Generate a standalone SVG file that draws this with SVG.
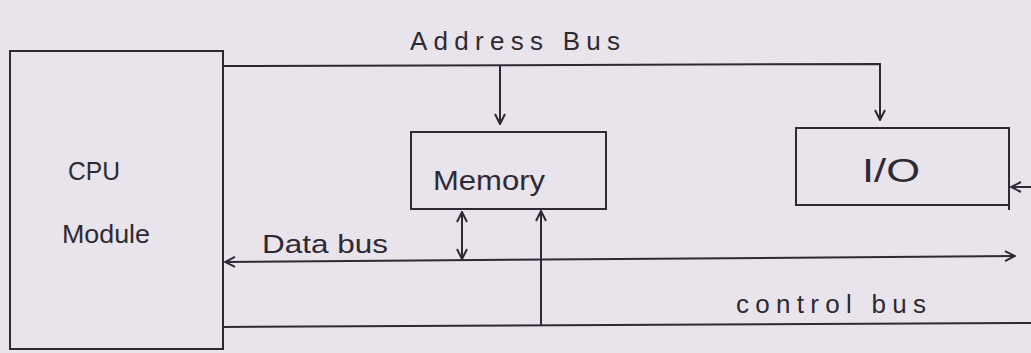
<svg xmlns="http://www.w3.org/2000/svg" width="1031" height="353" viewBox="0 0 1031 353">
<style>
.box{fill:none;stroke:#2e2a33;stroke-width:2}
.ln{fill:none;stroke:#2e2a33;stroke-width:2}
.t{font-family:"Liberation Sans",Arial,sans-serif;fill:#2e2a33;font-size:26px}
</style>
<defs>
<marker id="ah" viewBox="0 0 12 12" refX="11" refY="6" markerWidth="12" markerHeight="12" markerUnits="userSpaceOnUse" orient="auto-start-reverse">
<path d="M1,1 L11,6 L1,11" fill="none" stroke="#2e2a33" stroke-width="2"/>
</marker>
</defs>
<rect width="1031" height="353" fill="#e9e3ec"/>
<g id="cpu">
<rect class="box" x="10" y="51" width="213" height="298"/>
<text class="t" x="68" y="180" textLength="52" lengthAdjust="spacingAndGlyphs">CPU</text>
<text class="t" x="62" y="243" textLength="88" lengthAdjust="spacingAndGlyphs">Module</text>
</g>
<g id="memory">
<rect class="box" x="411" y="132" width="195" height="77"/>
<text class="t" x="433" y="190" textLength="112" lengthAdjust="spacingAndGlyphs" style="font-size:28px">Memory</text>
</g>
<g id="io">
<rect class="box" x="796" y="128" width="213" height="77"/>
<line class="ln" x1="1009" y1="200" x2="1009" y2="210"/>
<text class="t" x="862" y="182" textLength="58" lengthAdjust="spacingAndGlyphs" style="font-size:34px">I/O</text>
</g>
<g id="connectors">
<polyline class="ln" points="223,66 880,64 880,120" marker-end="url(#ah)"/>
<line class="ln" x1="500" y1="66" x2="500" y2="124" marker-end="url(#ah)"/>
<line class="ln" x1="225" y1="262" x2="1015" y2="256" marker-start="url(#ah)" marker-end="url(#ah)"/>
<line class="ln" x1="462" y1="212" x2="462" y2="259" marker-start="url(#ah)" marker-end="url(#ah)"/>
<line class="ln" x1="223" y1="327" x2="1031" y2="323"/>
<line class="ln" x1="541" y1="325" x2="541" y2="211" marker-end="url(#ah)"/>
<line class="ln" x1="1031" y1="187" x2="1011" y2="187" marker-end="url(#ah)"/>
</g>
<g id="labels">
<text class="t" x="410" y="50" textLength="210" lengthAdjust="spacing">Address Bus</text>
<text class="t" x="262" y="253" textLength="126" lengthAdjust="spacingAndGlyphs">Data bus</text>
<text class="t" x="736" y="313" textLength="190" lengthAdjust="spacing">control bus</text>
</g>
</svg>
